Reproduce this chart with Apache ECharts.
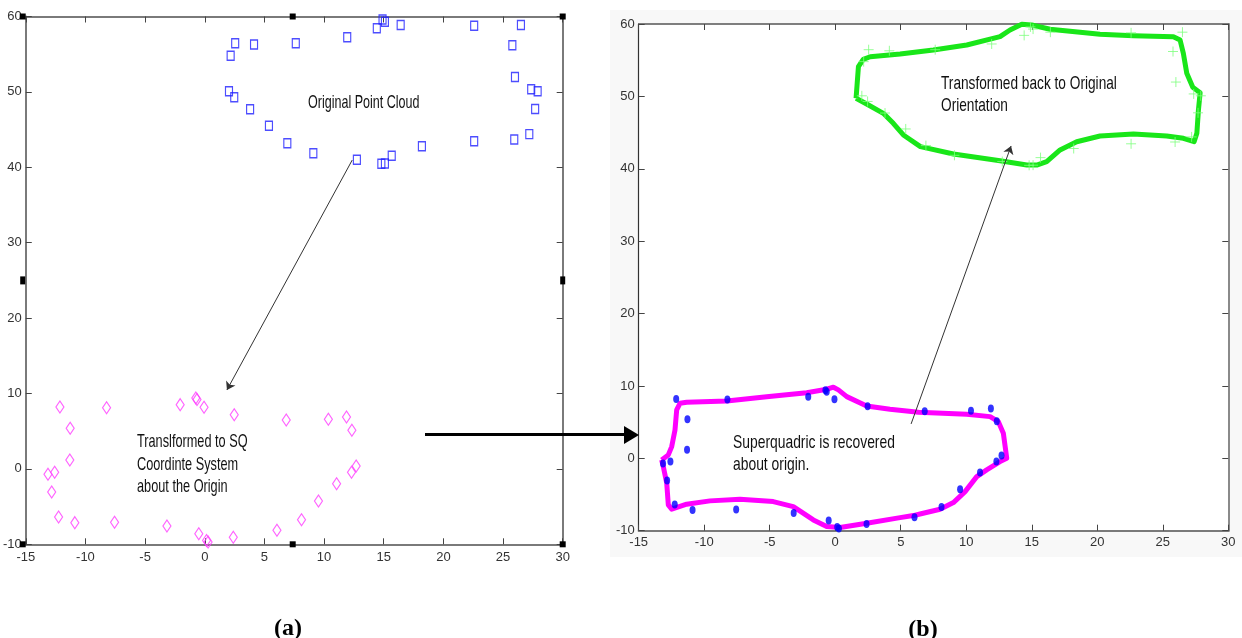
<!DOCTYPE html>
<html>
<head>
<meta charset="utf-8">
<script src="https://cdn.jsdelivr.net/npm/echarts@6/dist/echarts.min.js"></script>
<style>
  html, body { margin: 0; padding: 0; background: #ffffff; }
  #chart { width: 1242px; height: 638px; }
</style>
</head>
<body>
<div id="chart"></div>
<script>
// ---------------- DATA ----------------
// Original point cloud (blue squares in (a), green crosses in (b))
var originalX = [2.55, 2.17, 4.13, 7.63, 2.03, 2.47, 3.80, 5.38, 6.92, 9.10, 11.94, 14.42, 14.90, 15.10, 16.42, 22.58, 26.50, 25.78, 26.00, 27.36, 27.90, 27.69, 27.20, 25.94, 22.58, 18.20, 15.67, 15.10, 14.80, 12.75];
var originalY = [56.45, 54.80, 56.30, 56.45, 50.08, 49.30, 47.70, 45.50, 43.20, 41.86, 57.24, 58.43, 59.60, 59.30, 58.87, 58.78, 58.87, 56.20, 51.98, 50.34, 50.08, 47.73, 44.40, 43.70, 43.45, 42.80, 41.54, 40.50, 40.48, 41.00];

// Points transformed to SQ coordinate system (pink diamonds in (a), blue dots in (b))
var sqX = [-12.14, -8.23, -11.28, -11.31, -13.14, -12.58, -12.83, -12.25, -10.89, -7.56, -3.17, -2.06, -0.75, -0.65, -0.06, 2.47, 6.83, 10.36, 11.88, 12.33, 12.69, 12.30, 11.05, 9.53, 8.11, 6.05, 2.39, 0.28, 0.15, -0.50];
var sqY = [8.21, 8.12, 5.38, 1.18, -0.72, -0.45, -3.06, -6.38, -7.13, -7.08, -7.57, 8.52, 9.40, 9.20, 8.17, 7.19, 6.49, 6.58, 6.88, 5.12, 0.38, -0.45, -1.96, -4.26, -6.74, -8.14, -9.07, -9.70, -9.50, -8.59];

// Recovered superquadric contour about origin (magenta)
var fitX = [-13.25, -12.74, -12.48, -12.23, -12.10, -11.85, -11.34, -8.28, -5.23, -2.18, -0.65, -0.14, 0.24, 0.88, 2.40, 4.18, 6.35, 10.04, 11.82, 12.45, 12.83, 13.09, 12.58, 11.56, 10.80, 9.91, 9.02, 8.00, 6.47, 5.96, 4.95, 2.40, 0.37, -0.65, -1.67, -3.20, -4.73, -7.27, -9.56, -11.34, -12.48, -12.74, -12.86, -13.12, -13.25];
var fitY = [-0.22, 0.47, 1.62, 3.92, 6.69, 7.60, 7.75, 7.93, 8.52, 9.07, 9.54, 9.82, 9.45, 8.52, 7.24, 6.78, 6.37, 6.09, 5.76, 5.07, 3.47, 0.01, -0.46, -1.60, -2.53, -4.60, -6.12, -7.03, -7.69, -7.91, -8.19, -8.97, -9.57, -9.43, -8.51, -6.67, -5.98, -5.65, -5.88, -6.34, -7.03, -6.44, -3.44, -1.15, -0.22];

// Contour transformed back to original orientation (green)
var backX = [1.59, 1.77, 2.14, 2.67, 4.95, 7.49, 10.04, 12.58, 13.34, 14.24, 15.00, 16.40, 20.21, 22.76, 25.81, 26.32, 26.57, 26.83, 27.29, 27.85, 27.72, 27.60, 27.39, 26.57, 25.30, 22.76, 20.21, 18.43, 17.16, 16.14, 15.38, 14.62, 12.58, 9.02, 6.50, 5.20, 4.43, 3.67, 2.40, 1.59];
var backY = [49.74, 54.10, 55.12, 55.48, 55.86, 56.41, 57.10, 58.25, 59.17, 59.96, 59.86, 59.27, 58.58, 58.38, 58.25, 57.79, 55.95, 53.19, 51.26, 50.51, 48.12, 44.90, 43.74, 44.21, 44.53, 44.80, 44.53, 43.74, 42.60, 40.98, 40.52, 40.52, 41.12, 42.04, 43.06, 44.67, 46.28, 47.66, 48.95, 49.74];

// Annotation arrows (data coordinates: [start, end])
var arrowA = [[12.36, 40.96], [1.86, 10.47]];
var arrowB = [[5.79, 4.75], [13.42, 43.15]];

// Axis ranges / ticks
var xRange = [-15, 30], xStep = 5;
var yRange = [-10, 60], yStep = 10;

// Texts
var labelOriginal = 'Original Point Cloud';
var labelSQ = ['Translformed to SQ', 'Coordinte System', 'about the Origin'];
var labelBack = ['Transformed back to Original', 'Orientation'];
var labelRecovered = ['Superquadric is recovered', 'about origin.'];
var panelLabels = ['(a)', '(b)'];

// ---------------- LAYOUT ----------------
var gA = { left: 22.7, top: 16.5, width: 540, height: 527.8 };
var gB = { left: 638.7, top: 24, width: 589.6, height: 506.7 };

function zip(xs, ys) { return xs.map(function (x, i) { return [x, ys[i]]; }); }

var tickFont = "'Liberation Sans Narrow', 'Arial Narrow', 'Liberation Sans', sans-serif";
var textFont = "'Liberation Sans', Arial, sans-serif";

function makeX(gridIndex, pos, showLabel, color, width, margin) {
  return {
    type: 'value', gridIndex: gridIndex, position: pos,
    min: xRange[0], max: xRange[1], interval: xStep,
    axisLine: { show: true, onZero: false, lineStyle: { color: color, width: width } },
    axisTick: { show: true, inside: true, length: 6, lineStyle: { color: '#444', width: 1 } },
    axisLabel: { show: showLabel, margin: margin, color: '#333', fontSize: 13, fontFamily: tickFont },
    splitLine: { show: false }
  };
}
function makeY(gridIndex, pos, showLabel, color, width, margin) {
  return {
    type: 'value', gridIndex: gridIndex, position: pos,
    min: yRange[0], max: yRange[1], interval: yStep,
    axisLine: { show: true, onZero: false, lineStyle: { color: color, width: width } },
    axisTick: { show: true, inside: true, length: 6, lineStyle: { color: '#444', width: 1 } },
    axisLabel: { show: showLabel, margin: margin, color: '#333', fontSize: 13, fontFamily: tickFont },
    splitLine: { show: false }
  };
}

// Selection handles around panel (a)
function handles(g) {
  var xs = [g.left, g.left + g.width / 2, g.left + g.width];
  var ys = [g.top, g.top + g.height / 2, g.top + g.height];
  var out = [];
  for (var i = 0; i < 3; i++) {
    for (var j = 0; j < 3; j++) {
      if (i === 1 && j === 1) continue;
      var w = (j === 1) ? 5 : 6, h = (j === 1) ? 8 : 6;
      if (i === 1) { w = 6; h = 6; }
      out.push({
        type: 'rect', z: 100,
        shape: { x: xs[i] - w / 2, y: ys[j] - h / 2, width: w, height: h },
        style: { fill: '#000' }
      });
    }
  }
  return out;
}

function textBlock(lines, x, y0, dy, scaleX) {
  return lines.map(function (t, i) {
    return {
      type: 'text', x: x, y: y0 + i * dy, scaleX: scaleX, z: 50,
      style: { text: t, fill: '#111', font: '19px ' + textFont, textAlign: 'left', textVerticalAlign: 'middle' }
    };
  });
}

var graphics = [
  { type: 'rect', z: -10, shape: { x: 610, y: 10, width: 632, height: 547 }, style: { fill: '#f8f8f8' } }
];
graphics = graphics.concat(handles(gA));
graphics = graphics.concat(textBlock([labelOriginal], 308, 103, 0, 0.66));
graphics = graphics.concat(textBlock(labelSQ, 137, 442, 22.3, 0.67));
graphics = graphics.concat(textBlock(labelBack, 941, 83.5, 21.8, 0.72));
graphics = graphics.concat(textBlock(labelRecovered, 733, 442.3, 22, 0.73));
graphics.push({
  type: 'line', z: 60, shape: { x1: 425, y1: 434.5, x2: 627, y2: 434.5 },
  style: { stroke: '#000', lineWidth: 3 }
});
graphics.push({
  type: 'polygon', z: 60, shape: { points: [[624, 426], [639, 435], [624, 444]] },
  style: { fill: '#000' }
});
graphics.push({
  type: 'text', x: 288, y: 629, z: 50,
  style: { text: panelLabels[0], fill: '#000', font: 'bold 24px "Liberation Serif", "Times New Roman", serif', textAlign: 'center', textVerticalAlign: 'middle' }
});
graphics.push({
  type: 'text', x: 923, y: 630, z: 50,
  style: { text: panelLabels[1], fill: '#000', font: 'bold 24px "Liberation Serif", "Times New Roman", serif', textAlign: 'center', textVerticalAlign: 'middle' }
});

var option = {
  animation: false,
  backgroundColor: '#ffffff',
  grid: [
    { left: gA.left, top: gA.top, width: gA.width, height: gA.height, show: true, backgroundColor: '#ffffff', borderWidth: 0 },
    { left: gB.left, top: gB.top, width: gB.width, height: gB.height, show: true, backgroundColor: '#ffffff', borderWidth: 0 }
  ],
  xAxis: [
    makeX(0, 'bottom', true, '#7a7a7a', 2, 7),
    makeX(0, 'top', false, '#7a7a7a', 2, 7),
    makeX(1, 'bottom', true, '#7a7a7a', 2, 5),
    makeX(1, 'top', false, '#555', 1.5, 5)
  ],
  yAxis: [
    makeY(0, 'left', true, '#7a7a7a', 2, 4),
    makeY(0, 'right', false, '#7a7a7a', 2, 4),
    makeY(1, 'left', true, '#333', 1.2, 4),
    makeY(1, 'right', false, '#8a8a8a', 2, 4)
  ],
  series: [
    {
      name: 'Original Point Cloud', type: 'scatter', xAxisIndex: 0, yAxisIndex: 0,
      data: zip(originalX, originalY), symbol: 'rect', symbolSize: [7, 9],
      itemStyle: { color: 'rgba(0,0,0,0)', borderColor: '#2020ff', borderWidth: 1.3 }
    },
    {
      name: 'SQ points', type: 'scatter', xAxisIndex: 0, yAxisIndex: 0,
      data: zip(sqX, sqY), symbol: 'diamond', symbolSize: [8, 12],
      itemStyle: { color: 'rgba(0,0,0,0)', borderColor: '#ff3cff', borderWidth: 1.2 }
    },
    {
      name: 'arrowA', type: 'lines', coordinateSystem: 'cartesian2d', xAxisIndex: 0, yAxisIndex: 0,
      data: [{ coords: arrowA }], symbol: ['none', 'arrow'], symbolSize: 8,
      lineStyle: { color: '#333', width: 1, opacity: 1 }, z: 5
    },
    {
      name: 'Recovered SQ', type: 'line', xAxisIndex: 2, yAxisIndex: 2,
      data: zip(fitX, fitY), showSymbol: false, smooth: false, clip: false,
      lineStyle: { color: '#ff00ff', width: 5, join: 'round' }, z: 3
    },
    {
      name: 'SQ points (b)', type: 'scatter', xAxisIndex: 2, yAxisIndex: 2,
      data: zip(sqX, sqY), symbol: 'circle', symbolSize: [6, 8],
      itemStyle: { color: '#0000ff' }, z: 4
    },
    {
      name: 'Transformed back', type: 'line', xAxisIndex: 2, yAxisIndex: 2,
      data: zip(backX, backY), showSymbol: false, smooth: false, clip: false,
      lineStyle: { color: '#19e619', width: 5, join: 'round' }, z: 3
    },
    {
      name: 'Original (b)', type: 'scatter', xAxisIndex: 2, yAxisIndex: 2,
      data: zip(originalX, originalY), symbol: 'path://M5,0 L5,10 M0,5 L10,5', symbolSize: 10,
      itemStyle: { color: 'none', borderColor: '#7dff7d', borderWidth: 1 }, z: 4
    },
    {
      name: 'arrowB', type: 'lines', coordinateSystem: 'cartesian2d', xAxisIndex: 2, yAxisIndex: 2,
      data: [{ coords: arrowB }], symbol: ['none', 'arrow'], symbolSize: 8,
      lineStyle: { color: '#333', width: 1, opacity: 1 }, z: 5
    }
  ],
  graphic: graphics
};

var chart = echarts.init(document.getElementById('chart'), null, { renderer: 'canvas' });
chart.setOption(option);
</script>
</body>
</html>
